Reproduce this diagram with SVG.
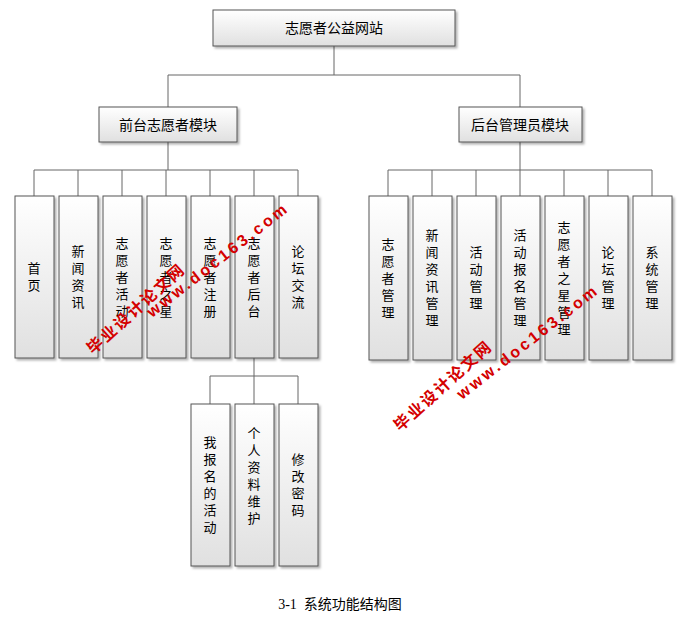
<svg xmlns="http://www.w3.org/2000/svg" width="679" height="638" viewBox="0 0 679 638">
<style>
.b{fill:url(#g);stroke:#555;stroke-width:1;filter:url(#s)}
.t{font-family:"Noto Sans CJK SC","Liberation Sans",sans-serif;font-size:14px;fill:#000;text-anchor:middle}
.v{font-family:"Noto Sans CJK SC",sans-serif;font-size:13px;fill:#000;text-anchor:middle;writing-mode:vertical-rl;letter-spacing:4px}
.c{fill:none;stroke:#666;stroke-width:1}
.w{font-family:"Liberation Sans","Noto Sans CJK SC",sans-serif;font-weight:bold;font-size:16px;fill:#d40000}
</style>
<defs>
<linearGradient id="g" x1="0" y1="0" x2="0" y2="1"><stop offset="0" stop-color="#ffffff"/><stop offset="1" stop-color="#e0e0e0"/></linearGradient>
<filter id="s" x="-10%" y="-10%" width="130%" height="130%"><feDropShadow dx="2" dy="2" stdDeviation="1" flood-color="#000" flood-opacity="0.3"/></filter>
</defs>
<rect width="679" height="638" fill="#fff"/>
<g id="connectors" class="c">
<path d="M334 46V75M168 75H520M168 75V107M520 75V107"/>
<path d="M168 142V170M34 170H298M34 170V196M78 170V196M122 170V196M166 170V196M210 170V196M254 170V196M298 170V196"/>
<path d="M520 142V170M388 170H652M388 170V196M432 170V196M476 170V196M520 170V196M564 170V196M608 170V196M652 170V196"/>
<path d="M254 358V376M210 376H298M210 376V404M254 376V404M298 376V404"/>
</g>
<g id="root"><rect class="b" x="213" y="10" width="242" height="36"/><text class="t" x="334" y="33" font-size="15">志愿者公益网站</text></g>
<g id="front"><rect class="b" x="99" y="107" width="138" height="35"/><text class="t" x="168" y="130">前台志愿者模块</text></g>
<g id="back"><rect class="b" x="459" y="107" width="123" height="35"/><text class="t" x="520" y="130">后台管理员模块</text></g>
<g id="f1"><rect class="b" x="15" y="196" width="39" height="162"/><text class="v" x="34" y="279">首页</text></g>
<g id="f2"><rect class="b" x="59" y="196" width="39" height="162"/><text class="v" x="78" y="279">新闻资讯</text></g>
<g id="f3"><rect class="b" x="103" y="196" width="39" height="162"/><text class="v" x="122" y="279">志愿者活动</text></g>
<g id="f4"><rect class="b" x="147" y="196" width="39" height="162"/><text class="v" x="166" y="279">志愿者之星</text></g>
<g id="f5"><rect class="b" x="191" y="196" width="39" height="162"/><text class="v" x="210" y="279">志愿者注册</text></g>
<g id="f6"><rect class="b" x="235" y="196" width="39" height="162"/><text class="v" x="254" y="279">志愿者后台</text></g>
<g id="f7"><rect class="b" x="279" y="196" width="39" height="162"/><text class="v" x="298" y="279">论坛交流</text></g>
<g id="b1"><rect class="b" x="369" y="196" width="39" height="164"/><text class="v" x="388" y="280">志愿者管理</text></g>
<g id="b2"><rect class="b" x="413" y="196" width="39" height="164"/><text class="v" x="432" y="280">新闻资讯管理</text></g>
<g id="b3"><rect class="b" x="457" y="196" width="39" height="164"/><text class="v" x="476" y="280">活动管理</text></g>
<g id="b4"><rect class="b" x="501" y="196" width="39" height="164"/><text class="v" x="520" y="280">活动报名管理</text></g>
<g id="b5"><rect class="b" x="545" y="196" width="39" height="164"/><text class="v" x="564" y="280">志愿者之星管理</text></g>
<g id="b6"><rect class="b" x="589" y="196" width="39" height="164"/><text class="v" x="608" y="280">论坛管理</text></g>
<g id="b7"><rect class="b" x="633" y="196" width="39" height="164"/><text class="v" x="652" y="280">系统管理</text></g>
<g id="s1"><rect class="b" x="191" y="404" width="39" height="162"/><text class="v" x="210" y="487">我报名的活动</text></g>
<g id="s2"><rect class="b" x="235" y="404" width="39" height="162"/><text class="v" x="254" y="478">个人资料维护</text></g>
<g id="s3"><rect class="b" x="279" y="404" width="39" height="162"/><text class="v" x="298" y="487">修改密码</text></g>
<text x="340" y="609" xml:space="preserve" font-family="'Liberation Serif','Noto Sans CJK SC',serif" font-size="14" text-anchor="middle">3-1  系统功能结构图</text>
<g id="watermarks">
<text class="w" transform="translate(93,355) rotate(-42)" letter-spacing="2">毕业设计论文网</text>
<text class="w" transform="translate(152,318) rotate(-38)" letter-spacing="3">www.doc163.com</text>
<text class="w" transform="translate(400,432) rotate(-42)" letter-spacing="2">毕业设计论文网</text>
<text class="w" transform="translate(462,400) rotate(-38)" letter-spacing="3">www.doc163.com</text>
</g>
</svg>
